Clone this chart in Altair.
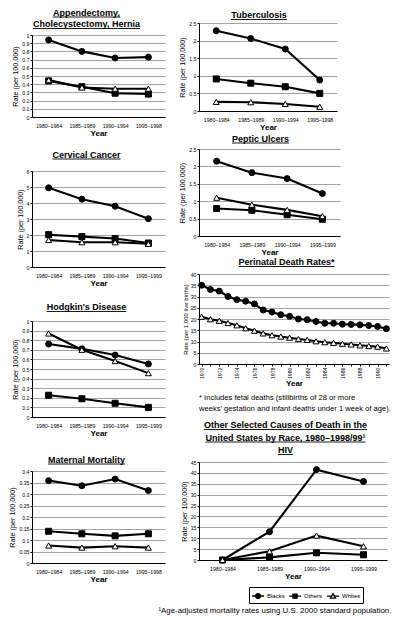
import altair as alt
import pandas as pd

FONT = "Liberation Sans"

RACES = ["Blacks", "Others", "Whites"]
PERIODS_98 = ["1980–1984", "1985–1989", "1990–1994", "1995–1998"]
PERIODS_99 = ["1980–1984", "1985–1989", "1990–1994", "1995–1999"]

APP_TITLE = ["Appendectomy,", "Cholecystectomy, Hernia"]
APP_BLACKS = [0.94, 0.80, 0.72, 0.73]
APP_OTHERS = [0.44, 0.37, 0.29, 0.28]
APP_WHITES = [0.45, 0.36, 0.345, 0.345]
APP_TICKS = [0, 0.1, 0.2, 0.3, 0.4, 0.5, 0.6, 0.7, 0.8, 0.9, 1]

TB_TITLE = ["Tuberculosis"]
TB_BLACKS = [2.28, 2.06, 1.76, 0.88]
TB_OTHERS = [0.91, 0.79, 0.69, 0.50]
TB_WHITES = [0.26, 0.25, 0.20, 0.12]
TB_TICKS = [0, 0.5, 1, 1.5, 2, 2.5]

CC_TITLE = ["Cervical Cancer"]
CC_BLACKS = [4.95, 4.24, 3.80, 3.02]
CC_OTHERS = [2.02, 1.90, 1.78, 1.50]
CC_WHITES = [1.69, 1.55, 1.55, 1.45]
CC_TICKS = [0, 1, 2, 3, 4, 5, 6]

PU_TITLE = ["Peptic Ulcers"]
PU_BLACKS = [2.15, 1.82, 1.65, 1.22]
PU_OTHERS = [0.79, 0.74, 0.61, 0.48]
PU_WHITES = [1.10, 0.90, 0.75, 0.57]
PU_TICKS = [0, 0.5, 1, 1.5, 2, 2.5]

HD_TITLE = ["Hodgkin's Disease"]
HD_BLACKS = [0.76, 0.71, 0.645, 0.553]
HD_OTHERS = [0.227, 0.19, 0.143, 0.10]
HD_WHITES = [0.87, 0.70, 0.583, 0.457]
HD_TICKS = [0, 0.1, 0.2, 0.3, 0.4, 0.5, 0.6, 0.7, 0.8, 0.9, 1]

MM_TITLE = ["Maternal Mortality"]
MM_BLACKS = [0.358, 0.336, 0.365, 0.315]
MM_OTHERS = [0.138, 0.127, 0.118, 0.127]
MM_WHITES = [0.076, 0.067, 0.073, 0.067]
MM_TICKS = [0, 0.05, 0.1, 0.15, 0.2, 0.25, 0.3, 0.35, 0.4]

PN_TITLE = ["Perinatal Death Rates*"]
PN_YEARS = [1970, 1971, 1972, 1973, 1974, 1975, 1976, 1977, 1978, 1979, 1980,
            1981, 1982, 1983, 1984, 1985, 1986, 1987, 1988, 1989, 1990, 1991]
PN_BLACKS = [35.0, 33.1, 32.4, 30.0, 28.6, 27.9, 26.7, 24.0, 23.1, 21.9, 21.2,
             20.0, 19.7, 18.9, 18.1, 18.1, 17.7, 17.6, 17.4, 17.1, 16.7, 15.7]
PN_WHITES = [21.0, 19.9, 19.2, 18.2, 17.2, 15.9, 14.8, 13.6, 12.8, 12.2, 11.7,
             11.1, 10.7, 10.1, 9.7, 9.4, 9.0, 8.7, 8.3, 8.0, 7.7, 6.9]
PN_TICKS = [0, 5, 10, 15, 20, 25, 30, 35, 40]
PN_NOTE = ("* Includes fetal deaths (stillbirths of 28 or more\n"
           "weeks' gestation and infant deaths under 1 week of age).")

HIV_TITLE = ["Other Selected Causes of Death in the",
             "United States by Race, 1980–1998/99¹", "HIV"]
HIV_BLACKS = [0, 13.0, 41.5, 36.0]
HIV_OTHERS = [0, 1.2, 3.3, 2.4]
HIV_WHITES = [0, 4.0, 11.2, 6.3]
HIV_TICKS = [0, 5, 10, 15, 20, 25, 30, 35, 40, 45]

FOOTNOTE = "¹Age-adjusted mortality rates using U.S. 2000 standard population."

SHAPES = {"Blacks": "circle", "Others": "square", "Whites": "triangle-up"}
FILLS = {"Blacks": "black", "Others": "black", "Whites": "white"}
LEG_PATHS = {
    "Blacks": "M-1,0H1M0.4,0A0.4,0.4,0,1,1,-0.4,0A0.4,0.4,0,1,1,0.4,0Z",
    "Others": "M-1,0H1M-0.34,-0.34H0.34V0.34H-0.34Z",
    "Whites": "M-1,0H-0.23M0.23,0H1M0,-0.42L0.42,0.34H-0.42Z",
}

BOLD_W = {
    'A': 722, 'C': 722, 'D': 722, 'H': 722, 'I': 278, 'M': 833, 'O': 778,
    'P': 667, 'R': 722, 'S': 667, 'T': 611, 'U': 722, 'V': 667,
    'a': 556, 'b': 611, 'c': 556, 'd': 611, 'e': 556, 'f': 333, 'g': 611,
    'h': 611, 'i': 278, 'k': 556, 'l': 278, 'm': 889, 'n': 611, 'o': 611,
    'p': 611, 'r': 389, 's': 556, 't': 333, 'u': 611, 'v': 556, 'y': 556,
    ' ': 278, ',': 278, "'": 238, '*': 389, '–': 556, '/': 278, '¹': 333,
}
TITLE_SIZE = 9


def text_w(s, size):
    return sum(BOLD_W.get(ch, 556) for ch in s) * size / 1000.0


def panel(title_lines, cats, series, ticks, width, height, dx, u, lh=11.5,
          ytitle="Rate (per 100,000)", ytitle_size=7.2, years=False,
          legend_xy=None, top_pad=0):
    names = list(series)
    df = pd.DataFrame([{"period": c, "race": r, "rate": v}
                       for r in names for c, v in zip(cats, series[r])])
    full_h = height + top_pad
    if years:
        x = alt.X("period:Q",
                  scale=alt.Scale(domain=[cats[0] - 0.3, cats[-1] + 0.3], nice=False, zero=False),
                  axis=alt.Axis(title="Year", values=cats, format="d", labelAngle=270,
                                labelExpr="datum.value % 2 == 0 ? datum.label : ''",
                                tickSize=2, labelPadding=1, titlePadding=1))
    else:
        x = alt.X("period:N",
                  scale=alt.Scale(type="point", padding=0.5, domain=cats),
                  axis=alt.Axis(title="Year", labelAngle=0, ticks=False,
                                labelPadding=6, titlePadding=1.5))
    yscale = alt.Scale(domain=[0, ticks[-1]], nice=False, zero=False)
    if top_pad:
        yscale = alt.Scale(domain=[0, ticks[-1]], nice=False, zero=False,
                           range=[full_h, top_pad])
    y = alt.Y("rate:Q", scale=yscale,
              axis=alt.Axis(title=ytitle, values=ticks, format="~g", grid=True,
                            tickSize=2, labelPadding=1, titlePadding=2,
                            titleFontSize=ytitle_size))
    base = alt.Chart(df)
    lines = base.mark_line(color="black", strokeWidth=2.1).encode(x=x, y=y, detail="race:N")
    pts = base.mark_point(filled=True, size=36, stroke="black", strokeWidth=1, opacity=1).encode(
        x=x, y=y,
        shape=alt.Shape("race:N", scale=alt.Scale(domain=names, range=[SHAPES[n] for n in names]),
                        legend=None),
        fill=alt.Fill("race:N", scale=alt.Scale(domain=names, range=[FILLS[n] for n in names]),
                      legend=None),
    )
    n = len(title_lines)
    cx = width / 2 + dx
    uu = u + top_pad
    first_base = uu - 1.3 - lh * (n - 1)
    ttl = alt.Chart(pd.DataFrame({"t": ["\n".join(title_lines)]})).mark_text(
        font=FONT, fontSize=TITLE_SIZE, fontWeight="bold", align="center",
        baseline="alphabetic", lineBreak="\n", lineHeight=lh, color="black"
    ).encode(text="t:N", x=alt.value(cx), y=alt.value(first_base))
    rules = []
    for i, line in enumerate(title_lines):
        w = text_w(line, TITLE_SIZE)
        rules.append(
            alt.Chart(pd.DataFrame({"k": [i]})).mark_rule(color="black", strokeWidth=0.9).encode(
                x=alt.value(cx - w / 2), x2=alt.value(cx + w / 2),
                y=alt.value(uu - lh * (n - 1 - i)))
        )
    layers = [lines, pts, ttl] + rules
    if legend_xy is not None:
        leg = alt.Legend(orient="none", legendX=legend_xy[0], legendY=legend_xy[1],
                         direction="horizontal", title=None, strokeColor="black",
                         padding=2, labelFontSize=6, labelFont=FONT, labelColor="black",
                         symbolSize=144, symbolStrokeWidth=1.3,
                         symbolOpacity=1, columnPadding=1, labelOffset=2)
        leg_layer = alt.Chart(df).transform_filter("datum.rate < 0").mark_point(
            filled=False, opacity=1).encode(
            shape=alt.Shape("race:N", scale=alt.Scale(domain=names, range=[LEG_PATHS[n] for n in names]),
                            legend=leg),
            fill=alt.Fill("race:N", scale=alt.Scale(domain=names, range=[FILLS[n] for n in names]),
                          legend=leg),
            stroke=alt.Stroke("race:N", scale=alt.Scale(domain=names, range=["black"] * len(names)),
                              legend=leg),
        )
        layers.append(leg_layer)
    ch = alt.layer(*layers).properties(width=width, height=full_h)
    if legend_xy is not None:
        ch = ch.resolve_scale(shape="independent", fill="independent", stroke="independent")
    return ch


app = panel(APP_TITLE, PERIODS_98, {"Blacks": APP_BLACKS, "Others": APP_OTHERS, "Whites": APP_WHITES},
            APP_TICKS, 133, 82, -12, -6.5, top_pad=12)
cc = panel(CC_TITLE, PERIODS_99, {"Blacks": CC_BLACKS, "Others": CC_OTHERS, "Whites": CC_WHITES},
           CC_TICKS, 133, 96, -12, -12)
hd = panel(HD_TITLE, PERIODS_99, {"Blacks": HD_BLACKS, "Others": HD_OTHERS, "Whites": HD_WHITES},
           HD_TICKS, 133, 96, -12, -9.5)
mm = panel(MM_TITLE, PERIODS_98, {"Blacks": MM_BLACKS, "Others": MM_OTHERS, "Whites": MM_WHITES},
           MM_TICKS, 133, 92, -12, -7)

tb = panel(TB_TITLE, PERIODS_98, {"Blacks": TB_BLACKS, "Others": TB_OTHERS, "Whites": TB_WHITES},
           TB_TICKS, 138, 88, -9, -3.5)
pu = panel(PU_TITLE, PERIODS_99, {"Blacks": PU_BLACKS, "Others": PU_OTHERS, "Whites": PU_WHITES},
           PU_TICKS, 141, 87, -9, -6)
pn = panel(PN_TITLE, PN_YEARS, {"Blacks": PN_BLACKS, "Whites": PN_WHITES},
           PN_TICKS, 190, 90, -7.5, -7.5, ytitle="Rate (per 1,000 live births)",
           ytitle_size=6, years=True)
note = alt.Chart(pd.DataFrame({"t": [PN_NOTE]})).mark_text(
    font=FONT, fontSize=7.6, align="left", baseline="alphabetic", lineBreak="\n",
    lineHeight=11, color="black"
).encode(text="t:N", x=alt.value(0), y=alt.value(-2)).properties(width=190, height=22)
hiv = panel(HIV_TITLE, PERIODS_99, {"Blacks": HIV_BLACKS, "Others": HIV_OTHERS, "Whites": HIV_WHITES},
            HIV_TICKS, 188, 98, -7.5, -7.5, lh=12.5, legend_xy=(50, 98 + 27))

left = alt.vconcat(app, cc, hd, mm, spacing=54, bounds="flush")
right = alt.vconcat(tb, pu, pn, note, hiv, spacing=38, bounds="flush")

chart = alt.hconcat(left, right, spacing=13).properties(
    padding=0,
    title=alt.TitleParams(FOOTNOTE, orient="bottom", anchor="end", frame="bounds",
                          fontSize=7.9, fontWeight="normal", font=FONT, offset=3,
                          color="black"),
).configure(font=FONT).configure_view(stroke=None).configure_axis(
    labelFont=FONT, titleFont=FONT, labelFontSize=5.2, labelColor="black",
    domainColor="black", tickColor="black", gridColor="#8c8c8c", gridWidth=0.8,
    domainWidth=1, titleColor="black"
).configure_axisX(titleFontSize=8, titleFontWeight="bold", grid=False).configure_axisY(
    titleFontWeight="normal"
)

chart.save("out.html", embed_options={"renderer": "svg", "actions": False})
